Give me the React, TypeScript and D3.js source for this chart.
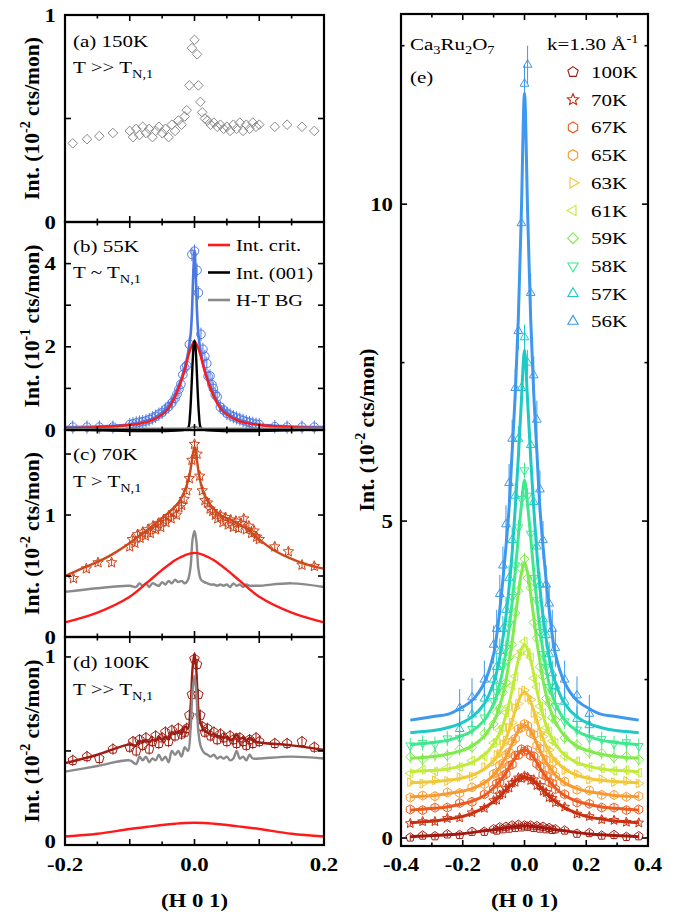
import * as d3 from 'd3';

const W = 677;
const H = 915;
const FONT = "'Liberation Serif', 'Times New Roman', serif";

// ---------- left column: scan positions (H 0 1) ----------
const hAD = [-0.188, -0.166, -0.147, -0.126, -0.1, -0.095, -0.09, -0.085, -0.08, -0.075, -0.07, -0.065, -0.06, -0.055, -0.05, -0.045, -0.04, -0.035, -0.03, -0.025, -0.02, -0.015, -0.012, -0.008, -0.004, 0, 0.004, 0.006, 0.009, 0.012, 0.016, 0.02, 0.025, 0.03, 0.035, 0.04, 0.045, 0.05, 0.055, 0.06, 0.065, 0.07, 0.075, 0.08, 0.085, 0.09, 0.095, 0.1, 0.124, 0.143, 0.166, 0.185];
const int150 = [0.38, 0.40, 0.415, 0.43, 0.44, 0.41, 0.45, 0.42, 0.46, 0.43, 0.45, 0.41, 0.44, 0.46, 0.43, 0.45, 0.41, 0.47, 0.44, 0.49, 0.47, 0.51, 0.54, 0.66, 0.84, 0.88, 0.81, 0.66, 0.58, 0.53, 0.50, 0.49, 0.47, 0.48, 0.46, 0.47, 0.45, 0.46, 0.44, 0.47, 0.45, 0.48, 0.44, 0.47, 0.45, 0.48, 0.46, 0.47, 0.46, 0.47, 0.46, 0.44];
const int100 = [0.45, 0.47, 0.46, 0.51, 0.52, 0.55, 0.5, 0.56, 0.53, 0.57, 0.51, 0.55, 0.58, 0.54, 0.57, 0.6, 0.55, 0.61, 0.58, 0.62, 0.59, 0.6, 0.62, 0.69, 0.8, 0.99, 0.96, 0.8, 0.69, 0.63, 0.6, 0.62, 0.58, 0.6, 0.56, 0.59, 0.57, 0.55, 0.58, 0.56, 0.54, 0.57, 0.55, 0.53, 0.56, 0.54, 0.57, 0.55, 0.54, 0.54, 0.55, 0.52];

// (b) 55K
const hB = [-0.188, -0.166, -0.147, -0.126, -0.1, -0.095, -0.09, -0.085, -0.08, -0.075, -0.07, -0.065, -0.06, -0.055, -0.05, -0.045, -0.04, -0.035, -0.03, -0.027, -0.024, -0.021, -0.018, -0.015, -0.012, -0.008, -0.004, 0, 0.004, 0.006, 0.01, 0.013, 0.016, 0.019, 0.021, 0.024, 0.027, 0.029, 0.032, 0.035, 0.04, 0.045, 0.05, 0.055, 0.06, 0.065, 0.07, 0.075, 0.08, 0.085, 0.09, 0.095, 0.1, 0.124, 0.143, 0.166, 0.185];
const int55 = [0.07, 0.07, 0.07, 0.07, 0.13, 0.15, 0.17, 0.19, 0.2, 0.22, 0.25, 0.29, 0.33, 0.38, 0.42, 0.5, 0.56, 0.65, 0.76, 0.86, 0.98, 1.1, 1.33, 1.5, 1.55, 2.06, 4.22, 4.3, 3.84, 3.3, 2.3, 1.94, 1.77, 1.6, 1.29, 1.3, 1.09, 1.0, 0.85, 0.8, 0.55, 0.48, 0.4, 0.36, 0.32, 0.29, 0.26, 0.23, 0.2, 0.18, 0.16, 0.14, 0.13, 0.08, 0.07, 0.07, 0.07];
const fitBx = [-0.2, -0.15, -0.1, -0.08, -0.06, -0.05, -0.04, -0.03, -0.02, -0.015, -0.01, -0.006, -0.004, -0.002, 0, 0.002, 0.004, 0.006, 0.01, 0.015, 0.02, 0.03, 0.04, 0.05, 0.06, 0.08, 0.1, 0.15, 0.2];
const fitBy = [0.07, 0.08, 0.13, 0.19, 0.31, 0.42, 0.58, 0.85, 1.25, 1.5, 1.85, 2.3, 2.8, 3.7, 4.32, 3.7, 2.8, 2.3, 1.85, 1.5, 1.25, 0.85, 0.58, 0.42, 0.31, 0.19, 0.13, 0.08, 0.07];
const critBx = [-0.2, -0.15, -0.1, -0.07, -0.05, -0.04, -0.03, -0.02, -0.015, -0.01, -0.005, 0, 0.005, 0.01, 0.015, 0.02, 0.03, 0.04, 0.05, 0.07, 0.1, 0.15, 0.2];
const critBy = [0.05, 0.07, 0.12, 0.21, 0.37, 0.52, 0.8, 1.2, 1.45, 1.75, 2.0, 2.12, 2.0, 1.75, 1.45, 1.2, 0.8, 0.52, 0.37, 0.21, 0.12, 0.07, 0.05];
const braggBx = [-0.2, -0.012, -0.009, -0.007, -0.005, -0.003, -0.0015, 0, 0.0015, 0.003, 0.005, 0.007, 0.009, 0.012, 0.2];
const braggBy = [0.02, 0.02, 0.08, 0.35, 0.9, 1.6, 2.0, 2.15, 2.0, 1.6, 0.9, 0.35, 0.08, 0.02, 0.02];

// H-T background (grey) on a shared grid
const hG = [-0.2, -0.15, -0.1, -0.09, -0.085, -0.08, -0.075, -0.07, -0.065, -0.06, -0.055, -0.05, -0.045, -0.04, -0.035, -0.03, -0.025, -0.02, -0.015, -0.01, -0.006, -0.003, 0, 0.003, 0.006, 0.01, 0.015, 0.02, 0.025, 0.03, 0.035, 0.04, 0.045, 0.05, 0.055, 0.06, 0.065, 0.07, 0.075, 0.08, 0.085, 0.09, 0.1, 0.15, 0.2];
const bgB = [0.02, 0.02, 0.03, 0.03, 0.03, 0.03, 0.03, 0.03, 0.03, 0.03, 0.03, 0.03, 0.03, 0.03, 0.03, 0.03, 0.03, 0.03, 0.03, 0.04, 0.05, 0.07, 0.08, 0.07, 0.05, 0.04, 0.03, 0.03, 0.03, 0.03, 0.03, 0.03, 0.03, 0.03, 0.03, 0.03, 0.03, 0.03, 0.03, 0.03, 0.03, 0.03, 0.03, 0.03, 0.03];
const bgC = [0.37, 0.4, 0.42, 0.41, 0.44, 0.42, 0.44, 0.41, 0.44, 0.43, 0.42, 0.45, 0.43, 0.46, 0.44, 0.47, 0.45, 0.46, 0.44, 0.47, 0.58, 0.8, 0.87, 0.78, 0.56, 0.47, 0.45, 0.44, 0.43, 0.43, 0.42, 0.43, 0.42, 0.43, 0.41, 0.44, 0.42, 0.43, 0.41, 0.43, 0.42, 0.42, 0.42, 0.44, 0.41];
const bgD = [0.39, 0.42, 0.45, 0.43, 0.47, 0.45, 0.47, 0.44, 0.46, 0.45, 0.48, 0.45, 0.47, 0.44, 0.5, 0.48, 0.5, 0.47, 0.52, 0.5, 0.62, 0.82, 0.9, 0.8, 0.6, 0.52, 0.49, 0.48, 0.47, 0.48, 0.46, 0.47, 0.46, 0.47, 0.45, 0.46, 0.5, 0.46, 0.47, 0.45, 0.48, 0.46, 0.46, 0.47, 0.46];

// (c) 70K
const hC = [-0.187, -0.167, -0.149, -0.128, -0.1, -0.096, -0.092, -0.088, -0.084, -0.08, -0.076, -0.072, -0.068, -0.064, -0.06, -0.056, -0.052, -0.048, -0.044, -0.04, -0.036, -0.032, -0.028, -0.024, -0.02, -0.016, -0.012, -0.008, -0.004, 0, 0.004, 0.008, 0.012, 0.016, 0.02, 0.024, 0.028, 0.032, 0.036, 0.04, 0.044, 0.048, 0.052, 0.056, 0.06, 0.064, 0.068, 0.072, 0.076, 0.08, 0.084, 0.088, 0.092, 0.096, 0.1, 0.124, 0.145, 0.166, 0.185];
const int70 = [0.48, 0.56, 0.61, 0.61, 0.74, 0.8, 0.77, 0.84, 0.81, 0.86, 0.83, 0.88, 0.85, 0.91, 0.88, 0.93, 0.9, 0.96, 0.94, 0.99, 0.97, 1.02, 1.0, 1.06, 1.08, 1.13, 1.2, 1.3, 1.45, 1.58, 1.5, 1.32, 1.2, 1.12, 1.1, 1.05, 1.03, 1.0, 0.97, 1.0, 0.94, 0.98, 0.92, 0.96, 0.9, 0.95, 0.89, 0.93, 0.97, 0.88, 0.91, 0.85, 0.87, 0.82, 0.8, 0.74, 0.7, 0.59, 0.58];
const fitCx = [-0.2, -0.17, -0.14, -0.12, -0.1, -0.08, -0.06, -0.04, -0.025, -0.015, -0.008, -0.003, 0, 0.003, 0.008, 0.015, 0.025, 0.04, 0.06, 0.08, 0.1, 0.12, 0.15, 0.17, 0.2];
const fitCy = [0.5, 0.57, 0.64, 0.7, 0.77, 0.85, 0.93, 1.02, 1.1, 1.2, 1.32, 1.48, 1.56, 1.48, 1.3, 1.17, 1.08, 1.0, 0.95, 0.89, 0.8, 0.72, 0.64, 0.6, 0.56];
const critHx = [-0.2, -0.15, -0.1, -0.07, -0.05, -0.03, -0.015, 0, 0.015, 0.03, 0.05, 0.07, 0.1, 0.15, 0.2];
const critCy = [0.12, 0.2, 0.33, 0.46, 0.55, 0.63, 0.67, 0.69, 0.67, 0.63, 0.55, 0.46, 0.33, 0.2, 0.12];
const critDy = [0.045, 0.06, 0.085, 0.098, 0.106, 0.113, 0.117, 0.118, 0.117, 0.113, 0.106, 0.098, 0.085, 0.06, 0.045];
const fitD = [0.435, 0.48, 0.535, 0.53, 0.555, 0.545, 0.56, 0.545, 0.56, 0.555, 0.575, 0.56, 0.575, 0.56, 0.6, 0.59, 0.605, 0.59, 0.63, 0.62, 0.74, 0.94, 1.02, 0.92, 0.72, 0.64, 0.61, 0.6, 0.585, 0.59, 0.575, 0.58, 0.57, 0.575, 0.56, 0.565, 0.59, 0.565, 0.57, 0.555, 0.57, 0.555, 0.545, 0.53, 0.505];

// ---------- right panel (e) ----------
const hE = [-0.37, -0.33, -0.29, -0.25, -0.21, -0.17, -0.13, -0.1, -0.09, -0.08, -0.07, -0.06, -0.05, -0.04, -0.03, -0.02, -0.01, 0, 0.01, 0.02, 0.03, 0.04, 0.05, 0.06, 0.07, 0.08, 0.09, 0.1, 0.13, 0.17, 0.21, 0.25, 0.29, 0.33, 0.37];
const tempsE = ['100K', '70K', '67K', '65K', '63K', '61K', '59K', '58K', '57K', '56K'];
const colorsE = ['#a3190f', '#c9300f', '#ec5a1e', '#f89a30', '#f0c83a', '#c2ea3a', '#80ea4e', '#3fe88e', '#1fc9c6', '#3d98ee'];
const shapesE = ['pentagon', 'star', 'hexagon', 'hexagon', 'triRight', 'triLeft', 'diamond', 'triDown', 'triUp', 'triUp'];
const errE = [0.05, 0.05, 0.06, 0.06, 0.07, 0.08, 0.1, 0.12, 0.2, 0.3];

const pts100 = [0.01, 0.04, 0.03, 0.06, 0.05, 0.1, 0.1, 0.14, 0.12, 0.17, 0.14, 0.18, 0.15, 0.2, 0.16, 0.21, 0.17, 0.2, 0.18, 0.2, 0.16, 0.19, 0.15, 0.18, 0.14, 0.16, 0.13, 0.14, 0.12, 0.07, 0.08, 0.04, 0.05, 0.02, 0.03];
const pts70 = [0.23, 0.26, 0.26, 0.31, 0.32, 0.4, 0.47, 0.59, 0.6, 0.68, 0.7, 0.78, 0.79, 0.87, 0.88, 0.95, 0.94, 0.98, 0.96, 0.91, 0.92, 0.83, 0.83, 0.74, 0.72, 0.64, 0.63, 0.56, 0.49, 0.38, 0.34, 0.29, 0.28, 0.25, 0.24];
const pts67 = [0.45, 0.44, 0.48, 0.48, 0.55, 0.57, 0.69, 0.77, 0.86, 0.88, 0.98, 1.01, 1.14, 1.16, 1.3, 1.31, 1.4, 1.37, 1.39, 1.3, 1.29, 1.17, 1.13, 1.0, 0.98, 0.88, 0.86, 0.77, 0.69, 0.56, 0.54, 0.48, 0.48, 0.44, 0.45];
const pts65 = [0.64, 0.67, 0.66, 0.72, 0.71, 0.8, 0.85, 1.01, 1.03, 1.15, 1.18, 1.31, 1.35, 1.52, 1.57, 1.72, 1.74, 1.8, 1.77, 1.66, 1.63, 1.46, 1.41, 1.25, 1.23, 1.09, 1.07, 0.97, 0.89, 0.76, 0.75, 0.68, 0.68, 0.65, 0.66];
const pts63 = [0.88, 0.86, 0.91, 0.9, 0.96, 0.97, 1.12, 1.2, 1.31, 1.33, 1.48, 1.54, 1.74, 1.82, 2.05, 2.12, 2.3, 2.33, 2.22, 2.18, 1.97, 1.88, 1.66, 1.6, 1.42, 1.39, 1.25, 1.2, 1.07, 1.01, 0.92, 0.93, 0.88, 0.9, 0.86];
const pts61 = [1.02, 1.08, 1.05, 1.11, 1.12, 1.22, 1.29, 1.5, 1.54, 1.7, 1.75, 1.98, 2.08, 2.4, 2.55, 2.88, 2.95, 3.1, 2.92, 2.85, 2.52, 2.38, 2.08, 1.97, 1.74, 1.68, 1.53, 1.5, 1.29, 1.21, 1.12, 1.1, 1.06, 1.07, 1.03];
const pts59 = [1.28, 1.24, 1.31, 1.3, 1.4, 1.43, 1.65, 1.8, 1.98, 2.05, 2.3, 2.45, 2.85, 3.05, 3.55, 3.9, 4.25, 4.4, 4.1, 3.95, 3.4, 3.15, 2.7, 2.55, 2.2, 2.12, 1.9, 1.86, 1.58, 1.47, 1.35, 1.34, 1.27, 1.29, 1.24];
const pts58 = [1.46, 1.5, 1.48, 1.57, 1.58, 1.72, 1.9, 2.16, 2.3, 2.4, 2.72, 3.0, 3.38, 3.8, 4.3, 4.9, 5.35, 5.8, 5.4, 4.8, 4.1, 3.75, 3.25, 2.9, 2.7, 2.38, 2.3, 2.08, 1.84, 1.71, 1.58, 1.56, 1.49, 1.51, 1.45];
const pts57 = [null, null, null, null, 1.72, 1.95, 2.2, 2.5, 2.7, 2.95, 3.3, 3.6, 4.1, 4.7, 5.4, 6.3, 7.1, 7.9, 7.5, 6.2, 5.3, 4.6, 4.0, 3.45, 3.2, 2.9, 2.6, 2.4, 2.15, 1.88, 1.78, null, null, null, null];
const pts56 = [null, null, null, null, 2.05, 2.22, 2.5, 3.05, 3.3, 3.85, 4.3, 4.95, 5.6, 6.3, 7.1, 8.0, 9.7, 11.9, 12.2, 8.6, 7.3, 6.6, 5.5, 4.7, 4.0, 3.7, 3.3, 3.0, 2.5, 2.25, 1.96, null, null, null, null];

const fit100 = [0.02, 0.03, 0.04, 0.05, 0.065, 0.085, 0.115, 0.13, 0.14, 0.145, 0.155, 0.16, 0.17, 0.175, 0.18, 0.185, 0.19, 0.19, 0.19, 0.185, 0.18, 0.175, 0.17, 0.16, 0.155, 0.145, 0.14, 0.13, 0.115, 0.085, 0.065, 0.05, 0.04, 0.03, 0.02];
const fit70 = [0.24, 0.255, 0.27, 0.3, 0.33, 0.39, 0.48, 0.575, 0.615, 0.66, 0.71, 0.76, 0.81, 0.85, 0.9, 0.93, 0.95, 0.96, 0.95, 0.93, 0.9, 0.85, 0.81, 0.76, 0.71, 0.66, 0.615, 0.575, 0.48, 0.39, 0.33, 0.3, 0.27, 0.255, 0.24];
const fit67 = [0.44, 0.455, 0.47, 0.49, 0.53, 0.58, 0.67, 0.79, 0.84, 0.9, 0.96, 1.03, 1.11, 1.19, 1.27, 1.33, 1.375, 1.39, 1.375, 1.33, 1.27, 1.19, 1.11, 1.03, 0.96, 0.9, 0.84, 0.79, 0.67, 0.58, 0.53, 0.49, 0.47, 0.455, 0.44];
const fit65 = [0.65, 0.66, 0.67, 0.7, 0.73, 0.78, 0.87, 0.99, 1.05, 1.12, 1.2, 1.28, 1.38, 1.49, 1.6, 1.69, 1.76, 1.78, 1.76, 1.69, 1.6, 1.49, 1.38, 1.28, 1.2, 1.12, 1.05, 0.99, 0.87, 0.78, 0.73, 0.7, 0.67, 0.66, 0.65];
const fit63 = [0.87, 0.88, 0.89, 0.91, 0.94, 0.99, 1.09, 1.22, 1.28, 1.36, 1.45, 1.57, 1.7, 1.85, 2.01, 2.15, 2.26, 2.3, 2.26, 2.15, 2.01, 1.85, 1.7, 1.57, 1.45, 1.36, 1.28, 1.22, 1.09, 0.99, 0.94, 0.91, 0.89, 0.88, 0.87];
const fit61 = [1.04, 1.06, 1.07, 1.09, 1.13, 1.19, 1.31, 1.48, 1.56, 1.66, 1.78, 1.94, 2.12, 2.34, 2.58, 2.81, 2.98, 3.05, 2.98, 2.81, 2.58, 2.34, 2.12, 1.94, 1.78, 1.66, 1.56, 1.48, 1.31, 1.19, 1.13, 1.09, 1.07, 1.06, 1.04];
const fit59 = [1.26, 1.27, 1.29, 1.32, 1.37, 1.45, 1.61, 1.83, 1.94, 2.09, 2.26, 2.49, 2.78, 3.1, 3.48, 3.85, 4.18, 4.35, 4.18, 3.85, 3.48, 3.1, 2.78, 2.49, 2.26, 2.09, 1.94, 1.83, 1.61, 1.45, 1.37, 1.32, 1.29, 1.27, 1.26];
const fit58 = [1.47, 1.49, 1.51, 1.54, 1.6, 1.69, 1.86, 2.12, 2.26, 2.43, 2.66, 2.95, 3.3, 3.72, 4.2, 4.75, 5.25, 5.65, 5.25, 4.75, 4.2, 3.72, 3.3, 2.95, 2.66, 2.43, 2.26, 2.12, 1.86, 1.69, 1.6, 1.54, 1.51, 1.49, 1.47];
const fit57 = [1.66, 1.68, 1.7, 1.74, 1.8, 1.91, 2.12, 2.45, 2.62, 2.85, 3.15, 3.5, 3.95, 4.5, 5.2, 6.0, 6.9, 7.7, 6.9, 6.0, 5.2, 4.5, 3.95, 3.5, 3.15, 2.85, 2.62, 2.45, 2.12, 1.91, 1.8, 1.74, 1.7, 1.68, 1.66];
const fit56 = [1.86, 1.89, 1.92, 1.95, 2.04, 2.17, 2.45, 2.9, 3.2, 3.6, 4.07, 4.6, 5.2, 6.1, 7.0, 8.2, 9.9, 11.75, 9.9, 8.2, 7.0, 6.1, 5.2, 4.6, 4.07, 3.6, 3.2, 2.9, 2.45, 2.17, 2.04, 1.95, 1.92, 1.89, 1.86];

const ptsE = [pts100, pts70, pts67, pts65, pts63, pts61, pts59, pts58, pts57, pts56];
const fitsE = [fit100, fit70, fit67, fit65, fit63, fit61, fit59, fit58, fit57, fit56];

// tick labels
const xTicksL = [-0.2, 0, 0.2];
const xTickLabelsL = ['-0.2', '0.0', '0.2'];
const xTicksE = [-0.4, -0.2, 0, 0.2, 0.4];
const xTickLabelsE = ['-0.4', '-0.2', '0.0', '0.2', '0.4'];

// ---------- geometry ----------
const LX0 = 65;
const LX1 = 324;
const tops = [15, 222, 430, 637, 845];
const EX0 = 401;
const EX1 = 648;
const EY0 = 14;
const EY1 = 846;

const sxL = d3.scaleLinear().domain([-0.2, 0.2]).range([LX0, LX1]);
const syA = d3.scaleLinear().domain([0, 1]).range([tops[1], tops[0]]);
const syB = d3.scaleLinear().domain([0, 5]).range([tops[2], tops[1]]);
const syC = d3.scaleLinear().domain([0, 1.697]).range([tops[3], tops[2]]);
const syD = d3.scaleLinear().domain([0, 1.106]).range([tops[4], tops[3]]);
const sxE = d3.scaleLinear().domain([-0.4, 0.4]).range([EX0, EX1]);
const syE = d3.scaleLinear().domain([-0.126, 13.0]).range([EY1, EY0]);

function polygonPath(n: number, r: number, start: number) {
  const p = d3.path();
  for (let i = 0; i < n; i++) {
    const a = start + (i * 2 * Math.PI) / n;
    if (i === 0) p.moveTo(r * Math.cos(a), r * Math.sin(a));
    else p.lineTo(r * Math.cos(a), r * Math.sin(a));
  }
  p.closePath();
  return p.toString();
}

function starPath(r: number) {
  const p = d3.path();
  for (let i = 0; i < 10; i++) {
    const a = -Math.PI / 2 + (i * Math.PI) / 5;
    const rr = i % 2 ? r * 0.45 : r;
    if (i === 0) p.moveTo(rr * Math.cos(a), rr * Math.sin(a));
    else p.lineTo(rr * Math.cos(a), rr * Math.sin(a));
  }
  p.closePath();
  return p.toString();
}

function markerPath(kind: string, r: number) {
  switch (kind) {
    case 'pentagon': return polygonPath(5, r, -Math.PI / 2);
    case 'hexagon': return polygonPath(6, r, -Math.PI / 2);
    case 'diamond': return polygonPath(4, r, -Math.PI / 2);
    case 'triUp': return polygonPath(3, r * 1.1, -Math.PI / 2);
    case 'triDown': return polygonPath(3, r * 1.1, Math.PI / 2);
    case 'triLeft': return polygonPath(3, r * 1.1, Math.PI);
    case 'triRight': return polygonPath(3, r * 1.1, 0);
    case 'star': return starPath(r * 1.1);
    default: return d3.symbol(d3.symbolCircle, Math.PI * r * r)() as string;
  }
}

function linePath(xs: number[], ys: (number | null)[], sx: any, sy: any) {
  const pts = xs.map((x, i) => [x, ys[i]] as [number, number | null]);
  return d3.line<[number, number | null]>()
    .defined((d) => d[1] != null)
    .x((d) => sx(d[0]))
    .y((d) => sy(d[1] as number))
    .curve(d3.curveCatmullRom.alpha(0.5))(pts) || '';
}

function Txt({ x, y, size = 18, bold = false, anchor = 'start', sx = 1.2, fill = '#000', children }: any) {
  return (
    <text
      transform={`translate(${x},${y}) scale(${sx},1)`}
      fontSize={size}
      fontWeight={bold ? 'bold' : 'normal'}
      textAnchor={anchor}
      fill={fill}
      fontFamily={FONT}
    >
      {children}
    </text>
  );
}

function Frame({ sx, sy, xMajor, xMinor, yMajor, yMinor }: any) {
  const [x0, x1] = sx.range();
  const [yb, yt] = sy.range();
  return (
    <g stroke="#000" strokeWidth={1.6}>
      {xMajor.map((t: number, i: number) => (
        <g key={`xm${i}`}>
          <line x1={sx(t)} x2={sx(t)} y1={yb} y2={yb - 6} />
          <line x1={sx(t)} x2={sx(t)} y1={yt} y2={yt + 6} />
        </g>
      ))}
      {xMinor.map((t: number, i: number) => (
        <g key={`xn${i}`}>
          <line x1={sx(t)} x2={sx(t)} y1={yb} y2={yb - 3.5} />
          <line x1={sx(t)} x2={sx(t)} y1={yt} y2={yt + 3.5} />
        </g>
      ))}
      {yMajor.map((t: number, i: number) => (
        <g key={`ym${i}`}>
          <line x1={x0} x2={x0 + 6} y1={sy(t)} y2={sy(t)} />
          <line x1={x1} x2={x1 - 6} y1={sy(t)} y2={sy(t)} />
        </g>
      ))}
      {yMinor.map((t: number, i: number) => (
        <g key={`yn${i}`}>
          <line x1={x0} x2={x0 + 3.5} y1={sy(t)} y2={sy(t)} />
          <line x1={x1} x2={x1 - 3.5} y1={sy(t)} y2={sy(t)} />
        </g>
      ))}
      <rect x={x0} y={yt} width={x1 - x0} height={yb - yt} fill="none" strokeWidth={2.2} />
    </g>
  );
}

function Markers({ xs, ys, sx, sy, kind, r, color, err = 0 }: any) {
  return (
    <g fill="none" stroke={color} strokeWidth={1}>
      {xs.map((x: number, i: number) => {
        const v = ys[i];
        if (v == null) return null;
        const cx = sx(x);
        const cy = sy(v);
        return (
          <g key={i}>
            {err > 0 && <line x1={cx} x2={cx} y1={sy(v - err)} y2={sy(v + err)} />}
            <path d={markerPath(kind, r)} transform={`translate(${cx},${cy})`} />
          </g>
        );
      })}
    </g>
  );
}

function YTitle({ x, cy, exp }: any) {
  return (
    <text transform={`translate(${x},${cy}) rotate(-90)`} textAnchor="middle" fontSize={21.5} fontWeight="bold" fontFamily={FONT}>
      Int. (10<tspan dy={-9} fontSize={14}>{exp}</tspan><tspan dy={9}> cts/mon)</tspan>
    </text>
  );
}

function TN({ x, y, rel }: any) {
  return (
    <Txt x={x} y={y} size={17.5}>
      {`T ${rel} T`}<tspan dy={5} fontSize={12}>N,1</tspan>
    </Txt>
  );
}

const minorL = [-0.15, -0.05, 0.05, 0.15];
const majorL = [-0.1, 0, 0.1];
const GREY = '#8a8a8a';
const RED = '#ff1a1a';

export default function App() {
  const leftY = [syA, syB, syC, syD];
  const yLabelSets = [
    { v: [0, 1], s: ['0', '1'] },
    { v: [0, 2, 4], s: ['0', '2', '4'] },
    { v: [0, 1], s: ['0', '1'] },
    { v: [0, 1], s: ['0', '1'] },
  ];
  const yMajorSets = [[0.5], [1, 2, 3, 4], [0.5, 1, 1.5], [0.5, 1]];

  return (
    <>
      <style>{'body{margin:0;background:#fff}'}</style>
      <svg width={W} height={H} viewBox={`0 0 ${W} ${H}`} style={{ display: 'block' }}>
        <rect width={W} height={H} fill="#fff" />

        {/* (a) 150K */}
        <Markers xs={hAD} ys={int150} sx={sxL} sy={syA} kind="diamond" r={4.8} color={GREY} />

        {/* (b) 55K */}
        <Markers xs={hB} ys={int55} sx={sxL} sy={syB} kind="circle" r={4.3} color="#4f78e0" err={0.16} />
        <path d={linePath(fitBx, fitBy, sxL, syB)} fill="none" stroke="#4a78e2" strokeWidth={2.6} />
        <path d={linePath(critBx, critBy, sxL, syB)} fill="none" stroke={RED} strokeWidth={2.4} />
        <path d={linePath(braggBx, braggBy, sxL, syB)} fill="none" stroke="#000" strokeWidth={2.4} />
        <path d={linePath(hG, bgB, sxL, syB)} fill="none" stroke={GREY} strokeWidth={2.4} />

        {/* (c) 70K */}
        <Markers xs={hC} ys={int70} sx={sxL} sy={syC} kind="star" r={5} color="#cc4318" err={0.03} />
        <path d={linePath(fitCx, fitCy, sxL, syC)} fill="none" stroke="#cc4a1c" strokeWidth={2.4} />
        <path d={linePath(hG, bgC, sxL, syC)} fill="none" stroke={GREY} strokeWidth={2.4} />
        <path d={linePath(critHx, critCy, sxL, syC)} fill="none" stroke={RED} strokeWidth={2.4} />

        {/* (d) 100K */}
        <Markers xs={hAD} ys={int100} sx={sxL} sy={syD} kind="pentagon" r={5} color="#9e1c12" err={0.03} />
        <path d={linePath(hG, fitD, sxL, syD)} fill="none" stroke="#9e1c12" strokeWidth={2.4} />
        <path d={linePath(hG, bgD, sxL, syD)} fill="none" stroke={GREY} strokeWidth={2.4} />
        <path d={linePath(critHx, critDy, sxL, syD)} fill="none" stroke={RED} strokeWidth={2.4} />

        {/* (e) temperature series */}
        {tempsE.map((t, k) => (
          <g key={t}>
            <Markers xs={hE} ys={ptsE[k]} sx={sxE} sy={syE} kind={shapesE[k]} r={4.6} color={colorsE[k]} err={errE[k]} />
            <path d={linePath(hE, fitsE[k], sxE, syE)} fill="none" stroke={colorsE[k]} strokeWidth={3} />
          </g>
        ))}

        {/* left frames */}
        {leftY.map((sy, i) => (
          <g key={`f${i}`}>
            <Frame sx={sxL} sy={sy} xMajor={majorL} xMinor={minorL} yMajor={yMajorSets[i]} yMinor={[]} />
            {yLabelSets[i].v.map((v, j) => (
              <Txt key={j} x={56} y={sy(v) + (i === 3 && v === 0 ? 3 : 6.5)} size={19} bold anchor="end">{yLabelSets[i].s[j]}</Txt>
            ))}
            <YTitle x={39} cy={(tops[i] + tops[i + 1]) / 2} exp={i === 1 ? '-1' : '-2'} />
          </g>
        ))}
        {xTicksL.map((t, i) => (
          <Txt key={`xl${i}`} x={sxL(t)} y={871} size={19} bold anchor="middle">{xTickLabelsL[i]}</Txt>
        ))}
        <Txt x={(LX0 + LX1) / 2} y={907} size={19} bold anchor="middle">(H 0 1)</Txt>

        {/* panel labels */}
        <Txt x={73} y={47} size={17.5}>(a) 150K</Txt>
        <TN x={73} y={73} rel=">>" />
        <Txt x={73} y={252} size={17.5}>(b) 55K</Txt>
        <TN x={73} y={278} rel="~" />
        <Txt x={73} y={460} size={17.5}>(c) 70K</Txt>
        <TN x={73} y={487} rel=">" />
        <Txt x={73} y={668} size={17.5}>(d) 100K</Txt>
        <TN x={73} y={695} rel=">>" />

        {/* (b) legend */}
        {[
          { c: RED, s: 'Int. crit.' },
          { c: '#000', s: 'Int. (001)' },
          { c: GREY, s: 'H-T BG' },
        ].map((d, i) => (
          <g key={`lg${i}`}>
            <line x1={208} x2={230} y1={245 + i * 27.5} y2={245 + i * 27.5} stroke={d.c} strokeWidth={2.6} />
            <Txt x={236} y={251 + i * 27.5} size={17}>{d.s}</Txt>
          </g>
        ))}

        {/* right frame */}
        <Frame sx={sxE} sy={syE} xMajor={[-0.2, 0, 0.2]} xMinor={[-0.3, -0.1, 0.1, 0.3]} yMajor={[0, 5, 10]} yMinor={[2.5, 7.5, 12.5]} />
        {[0, 5, 10].map((v) => (
          <Txt key={`ye${v}`} x={393} y={syE(v) + 6.5} size={19} bold anchor="end">{String(v)}</Txt>
        ))}
        {xTicksE.map((t, i) => (
          <Txt key={`xe${i}`} x={sxE(t)} y={871} size={19} bold anchor="middle">{xTickLabelsE[i]}</Txt>
        ))}
        <Txt x={(EX0 + EX1) / 2} y={907} size={19} bold anchor="middle">(H 0 1)</Txt>
        <YTitle x={374} cy={430} exp="-2" />

        <Txt x={410} y={50} size={17.5}>
          Ca<tspan dy={4} fontSize={12}>3</tspan><tspan dy={-4}>Ru</tspan><tspan dy={4} fontSize={12}>2</tspan><tspan dy={-4}>O</tspan><tspan dy={4} fontSize={12}>7</tspan>
        </Txt>
        <Txt x={410} y={83} size={17.5}>(e)</Txt>
        <Txt x={547} y={50} size={17.5}>
          k=1.30 Å<tspan dy={-7} fontSize={12}>-1</tspan>
        </Txt>

        {tempsE.map((t, k) => {
          const cy = 72 + k * 27.7;
          return (
            <g key={`le${t}`}>
              <path d={markerPath(shapesE[k], 5.4)} transform={`translate(573,${cy})`} fill="none" stroke={colorsE[k]} strokeWidth={1.1} />
              <Txt x={591} y={cy + 6} size={17.5}>{t}</Txt>
            </g>
          );
        })}
      </svg>
    </>
  );
}
